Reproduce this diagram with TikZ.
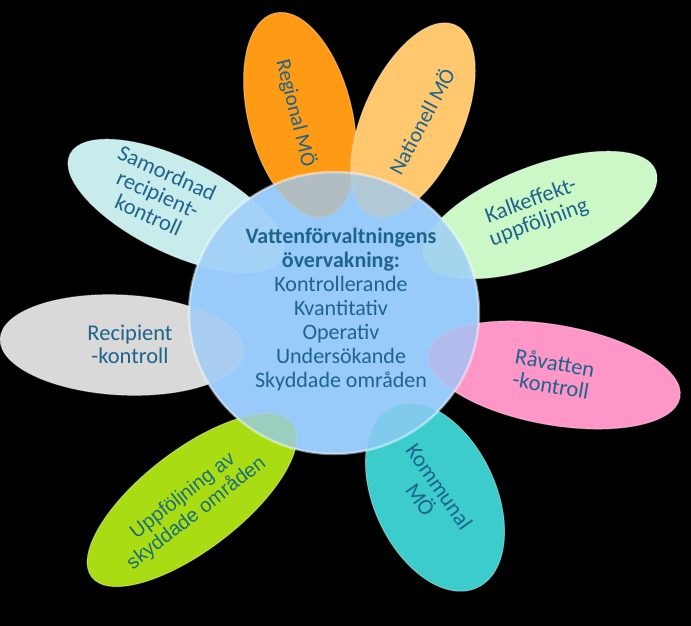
\documentclass[tikz,border=0pt]{standalone}
\usepackage{fontspec}
\setmainfont{Carlito}
\newfontfamily\arialfont{Liberation Sans}
\usetikzlibrary{shapes.geometric}
\definecolor{vfink}{HTML}{1E648C}
\definecolor{vfinkgreen}{HTML}{1A6E7A}
\definecolor{vforange}{HTML}{FF9A14}
\definecolor{vfapricot}{HTML}{FFC76E}
\definecolor{vfmint}{HTML}{CCF8C8}
\definecolor{vfpink}{HTML}{FF96C8}
\definecolor{vfturq}{HTML}{3CCCCC}
\definecolor{vflime}{HTML}{AADC14}
\definecolor{vfgrey}{HTML}{D9D9D9}
\definecolor{vfpale}{HTML}{C8EBEB}
\definecolor{vfhub}{HTML}{98CAFA}
\tikzset{
  petal/.style={ellipse, inner sep=0pt, draw=white, draw opacity=0.35, line width=1pt},
  ptxt/.style={align=center, text=vfink, inner sep=0pt, font=\fontsize{22.5}{23}\selectfont},
  hubbase/.style={ellipse, inner sep=0pt, fill=vfhub, minimum width=290pt, minimum height=282pt},
  hub/.style={hubbase, fill opacity=0.75, draw=white, draw opacity=0.45, line width=2.5pt},
  hubtxt/.style={align=center, text=vfink, inner sep=0pt, font=\fontsize{22}{24}\selectfont},
}

\begin{document}
\begin{tikzpicture}[x=1pt, y=-1pt]
    \fill[black] (0,0) rectangle (691,626);
    \useasboundingbox (0,0) rectangle (691,626);
    \node[hubbase] (hubbg) at (334,313) {};
    \node[petal, fill=vforange, minimum width=210pt, minimum height=104pt, rotate=-76] (reg) at (300,115) {};
    \node[petal, fill=vfapricot, minimum width=208pt, minimum height=100pt, rotate=66] (nat) at (413,120) {};
    \node[petal, fill=vfmint, minimum width=248pt, minimum height=98pt, rotate=21] (kalk) at (540,215) {};
    \node[petal, fill=vfpink, minimum width=256pt, minimum height=100pt, rotate=-10] (rav) at (554,375) {};
    \node[petal, fill=vfturq, minimum width=200pt, minimum height=122pt, rotate=-65] (kom) at (435,497) {};
    \node[petal, fill=vflime, minimum width=253pt, minimum height=100pt, rotate=37.5] (skydd) at (192,500) {};
    \node[petal, fill=vfgrey, minimum width=244pt, minimum height=100pt, rotate=-3] (rec) at (122,345) {};
    \node[petal, fill=vfpale, minimum width=236pt, minimum height=94pt, rotate=-26] (sam) at (176,206) {};
    \node[ptxt, rotate=-76, font=\fontsize{21}{22}\selectfont] (regT) at (296,113) {Regional MÖ};
    \node[ptxt, rotate=62, font=\fontsize{21.5}{22}\selectfont] (natT) at (421,121) {Nationell MÖ};
    \node[ptxt, rotate=20] (kalkT) at (535,212) {Kalkeffekt-\\uppföljning};
    \node[ptxt, rotate=-10] (ravT) at (553,374) {Råvatten\\-kontroll};
    \node[ptxt, rotate=-55] (komT) at (430,493) {Kommunal\\MÖ};
    \node[ptxt, rotate=38, text=vfinkgreen, font=\arialfont\fontsize{20}{22}\selectfont] (skyddT) at (190,505) {Uppföljning av\\skyddade områden};
    \node[ptxt] (recT) at (130,344) {Recipient\\-kontroll};
    \node[ptxt, rotate=-24] (samT) at (158,194) {Samordnad\\recipient-\\kontroll};
    \node[hub] (hub) at (334,313) {};
    \node[hubtxt] (hubT) at (341,310) {\textbf{Vattenförvaltningens}\\\textbf{övervakning:}\\Kontrollerande\\Kvantitativ\\Operativ\\Undersökande\\Skyddade områden};
  \end{tikzpicture}
\end{document}
